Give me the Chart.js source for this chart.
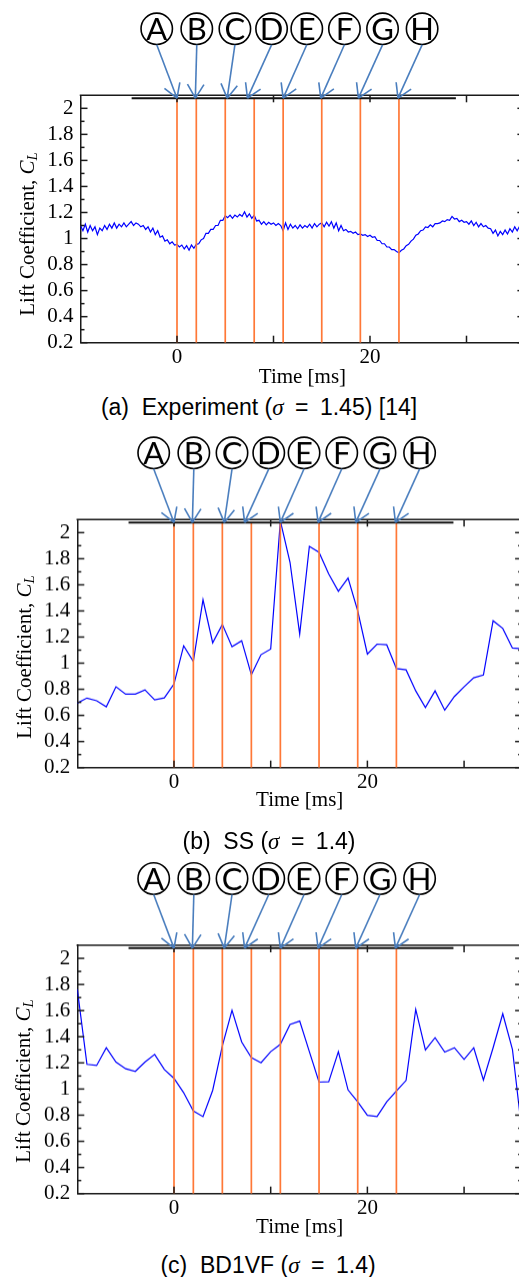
<!DOCTYPE html>
<html><head><meta charset="utf-8">
<script src="https://cdn.jsdelivr.net/npm/chart.js@4.4.1/dist/chart.umd.min.js"></script>
<style>
html,body{margin:0;padding:0;background:#fff;overflow:hidden;width:519px;height:1277px;position:relative;}
.panel{position:absolute;left:0;width:530px;}
.cap{position:absolute;font-family:"Liberation Sans",Arial,sans-serif;font-size:23px;line-height:23px;white-space:nowrap;text-align:center;color:#000;width:400px;}
.cap .m{font-family:"Liberation Serif",serif;font-style:italic;}
.ytitle{position:absolute;font-family:"Liberation Serif",serif;font-size:21px;line-height:21px;white-space:nowrap;color:#000;transform:translate(-50%,-50%) rotate(-90deg);}
.ytitle i{font-style:italic;}
.ytitle sub{font-size:0.7em;vertical-align:-0.25em;line-height:0;}
</style></head>
<body>
<div class="panel" style="top:0px;height:390px"><canvas id="cA"></canvas></div>
<div class="panel" style="top:423px;height:388.6px"><canvas id="cB"></canvas></div>
<div class="panel" style="top:850px;height:388.6px"><canvas id="cC"></canvas></div>
<div class="ytitle" style="left:27px;top:234px">Lift Coefficient, <i>C<sub>L</sub></i></div>
<div class="ytitle" style="left:23.5px;top:657px">Lift Coefficient, <i>C<sub>L</sub></i></div>
<div class="ytitle" style="left:23px;top:1081px">Lift Coefficient, <i>C<sub>L</sub></i></div>
<div class="cap" style="left:59px;top:395.5px">(a)&nbsp; Experiment (<span class="m">σ</span>&ensp;=&ensp;1.45) [14]</div>
<div class="cap" style="left:69px;top:830px">(b)&nbsp; SS (<span class="m">σ</span>&ensp;=&ensp;1.4)</div>
<div class="cap" style="left:68px;top:1253.5px">(c)&nbsp; BD1VF (<span class="m">σ</span>&ensp;=&ensp;1.4)</div>
<script>
// ---- data ----
const expStart = -10, expStep = 0.25;
const expValues = [
 1.10,1.06,1.11,1.05, 1.10,1.06,1.09,1.03, 1.08,1.06,1.10,1.07, 1.11,1.08,1.12,1.08,
 1.11,1.09,1.12,1.09, 1.11,1.13,1.10,1.12, 1.11,1.09,1.10,1.07, 1.09,1.05,1.08,1.03,
 1.06,1.01,1.02,0.98, 0.99,0.96,0.975,0.95, 0.955,0.935,0.95,0.92, 0.945,0.91,0.95,0.925,
 0.955,0.96,0.99,1.00, 1.04,1.04,1.07,1.07, 1.10,1.10,1.14,1.14, 1.175,1.16,1.18,1.155,
 1.18,1.165,1.185,1.17, 1.205,1.165,1.19,1.155, 1.18,1.135,1.14,1.11, 1.13,1.105,1.125,1.11,
 1.12,1.10,1.115,1.10, 1.06,1.12,1.07,1.11, 1.08,1.10,1.075,1.105, 1.08,1.10,1.085,1.11,
 1.08,1.115,1.09,1.11, 1.12,1.09,1.125,1.095, 1.13,1.08,1.12,1.06, 1.10,1.06,1.07,1.05,
 1.055,1.04,1.05,1.03, 1.035,1.025,1.03,1.015, 1.025,1.01,1.015,0.985, 0.985,0.96,0.96,0.935,
 0.935,0.915,0.915,0.90, 0.89,0.91,0.92,0.945, 0.955,0.98,0.995,1.025, 1.035,1.06,1.065,1.09,
 1.085,1.105,1.09,1.115, 1.115,1.12,1.135,1.13, 1.145,1.14,1.17,1.15, 1.155,1.13,1.14,1.125,
 1.13,1.11,1.135,1.10, 1.125,1.09,1.115,1.09, 1.10,1.08,1.075,1.04, 1.065,1.02,1.055,1.03,
 1.065,1.035,1.075,1.05, 1.09,1.06,1.095,1.075, 1.09
];
const simTimes = [-10,-9,-8,-7,-6,-5,-4,-3,-2,-1,0,1,2,3,4,5,6,7,8,9,10,11,12,13,14,15,16,17,18,19,20,21,22,23,24,25,26,27,28,29,30,31,32,33,34,35,36];
const ssValues = [0.694,0.733,0.712,0.666,0.819,0.763,0.763,0.796,0.719,0.734,0.84,1.133,1.013,1.486,1.156,1.297,1.126,1.172,0.911,1.065,1.108,2.09,1.772,1.223,1.895,1.849,1.683,1.55,1.652,1.40,1.07,1.146,1.141,0.959,0.949,0.788,0.66,0.788,0.64,0.745,0.819,0.888,0.909,1.325,1.266,1.116,1.11];
const bdValues = [1.763,1.189,1.18,1.316,1.206,1.155,1.135,1.206,1.265,1.15,1.082,0.972,0.832,0.789,0.99,1.33,1.602,1.36,1.24,1.201,1.286,1.342,1.495,1.52,1.286,1.053,1.056,1.286,0.993,0.903,0.799,0.789,0.903,0.985,1.066,1.61,1.30,1.393,1.283,1.316,1.227,1.316,1.069,1.316,1.576,1.304,0.66];
const eventTimes = [0,2,5,8,11,15,19,23];
const eventLetters = ['A','B','C','D','E','F','G','H'];
const letterX = [-2.1,2.05,6.0,9.8,13.45,17.35,21.3,25.4];
const arrowToX = [0,1.9,5.2,7.3,11.0,14.9,18.8,22.9];
const barStart = -4.7, barEnd = 28.9, barLevel = 2.078;
const yTickValues = [0.2,0.4,0.6,0.8,1.0,1.2,1.4,1.6,1.8,2.0];
const yMinorValues = [0.3,0.5,0.7,0.9,1.1,1.3,1.5,1.7,1.9];
const xTickValues = [0,10,20,30];
const xLabelled = [0,20];

const AXIS = '#1a1a1a';
const ORANGE = 'rgb(255,120,55)';
const ARROW = 'rgb(74,126,190)';

const framePlugin = {
  id: 'frame',
  afterDatasetsDraw(chart) {
    const {ctx, chartArea: {left, right, top, bottom}, scales: {x, y}} = chart;
    const ln = (x1, y1, x2, y2) => { ctx.beginPath(); ctx.moveTo(x1, y1); ctx.lineTo(x2, y2); ctx.stroke(); };
    ctx.save();
    ctx.strokeStyle = AXIS; ctx.lineWidth = 1.5;
    ln(left - 0.75, top, right, top);
    yTickValues.forEach(v => { const p = y.getPixelForValue(v); ln(left, p, left + 7, p); ln(right - 7, p, right, p); });
    yMinorValues.forEach(v => { const p = y.getPixelForValue(v); ln(left, p, left + 4, p); ln(right - 4, p, right, p); });
    xTickValues.forEach(v => { const p = x.getPixelForValue(v); ln(p, bottom, p, bottom - 7); ln(p, top, p, top + 7); });
    // circled letters and arrows
    const cy = top - 66.5;
    const yEnd = y.getPixelForValue(barLevel);
    ctx.font = '31px Lato, "Open Sans", sans-serif';
    ctx.textAlign = 'center'; ctx.textBaseline = 'alphabetic';
    eventLetters.forEach((L, i) => {
      const cx = x.getPixelForValue(letterX[i]);
      ctx.strokeStyle = '#000'; ctx.lineWidth = 1.6;
      ctx.beginPath(); ctx.arc(cx, cy, 15.7, 0, Math.PI * 2); ctx.stroke();
      ctx.fillStyle = '#000';
      ctx.fillText(L, cx, cy + 11);
      const sx = cx, sy = cy + 16;
      const ex = x.getPixelForValue(arrowToX[i]), ey = yEnd;
      ctx.strokeStyle = ARROW; ctx.lineWidth = 1.6;
      ln(sx, sy, ex, ey);
      const ang = Math.atan2(sy - ey, sx - ex);
      const a = 31 * Math.PI / 180, len = 16;
      ln(ex, ey, ex + len * Math.cos(ang + a), ey + len * Math.sin(ang + a));
      ln(ex, ey, ex + len * Math.cos(ang - a), ey + len * Math.sin(ang - a));
    });
    ctx.restore();
  }
};

function makeChart(id, points, cfg) {
  const datasets = [{
    data: points, borderColor: 'rgb(0,0,255)', borderWidth: 1.2, pointRadius: 0, tension: 0, fill: false, order: 3
  }];
  eventTimes.forEach(t => datasets.push({
    data: [{x: t, y: 0.2}, {x: t, y: barLevel}], borderColor: ORANGE, borderWidth: 1.7, pointRadius: 0, order: 2
  }));
  datasets.push({
    data: [{x: barStart, y: barLevel}, {x: barEnd, y: barLevel}], borderColor: '#111', borderWidth: 2, pointRadius: 0, order: 1
  });
  return new Chart(document.getElementById(id), {
    type: 'line',
    data: {datasets},
    plugins: [framePlugin],
    options: {
      responsive: true, maintainAspectRatio: false, animation: false,
      layout: {padding: {top: cfg.padTop, left: 0, right: cfg.padRight, bottom: 0}},
      plugins: {legend: {display: false}, tooltip: {enabled: false}},
      scales: {
        x: {
          type: 'linear', min: -10, max: 36,
          afterBuildTicks: s => { s.ticks = xTickValues.map(v => ({value: v})); },
          afterFit: s => { s.height = cfg.xH; },
          grid: {display: true, drawOnChartArea: false, drawTicks: false},
          border: {display: true, color: AXIS, width: 1.5},
          ticks: {color: '#000', padding: 2, font: {family: '"Liberation Serif", serif', size: 21},
                  maxRotation: 0, autoSkip: false,
                  callback: v => xLabelled.includes(v) ? String(v) : ''},
          title: {display: true, text: 'Time [ms]', color: '#000', padding: {top: 0, bottom: 0},
                  font: {family: '"Liberation Serif", serif', size: 21}}
        },
        y: {
          type: 'linear', min: 0.2, max: 2.1,
          afterBuildTicks: s => { s.ticks = yTickValues.map(v => ({value: v})); },
          afterFit: s => { s.width = cfg.yW; },
          grid: {display: true, drawOnChartArea: false, drawTicks: false},
          border: {display: true, color: AXIS, width: 1.5},
          ticks: {color: '#000', padding: 7, font: {family: '"Liberation Serif", serif', size: 21},
                  autoSkip: false, callback: v => String(+Number(v).toFixed(1))}
        }
      }
    }
  });
}

const expPoints = expValues.map((v, i) => ({x: expStart + i * expStep, y: v}));
const ssPoints = simTimes.map((t, i) => ({x: t, y: ssValues[i]}));
const bdPoints = simTimes.map((t, i) => ({x: t, y: bdValues[i]}));

makeChart('cA', expPoints, {padTop: 95.3, padRight: 5.6, yW: 80.5, xH: 47.3});
makeChart('cB', ssPoints, {padTop: 96.3, padRight: 7.9, yW: 77.3, xH: 44.9});
makeChart('cC', bdPoints, {padTop: 95, padRight: 7.9, yW: 77.3, xH: 45.9});
</script>
</body></html>
